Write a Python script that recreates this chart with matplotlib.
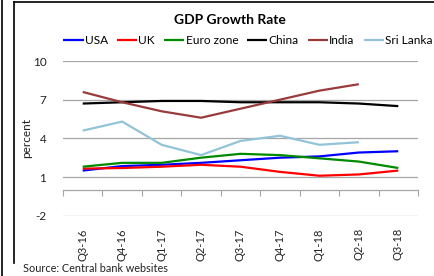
import numpy as np
import matplotlib
matplotlib.use("Agg")
import matplotlib.pyplot as plt
from matplotlib.lines import Line2D

plt.rcParams['font.family'] = ['Lato', 'DejaVu Sans']
plt.rcParams['axes.unicode_minus'] = False

quarters = ["Q3-16", "Q4-16", "Q1-17", "Q2-17", "Q3-17", "Q4-17", "Q1-18", "Q2-18", "Q3-18"]

usa = [1.5, 1.85, 1.95, 2.1, 2.3, 2.5, 2.6, 2.9, 3.0]
uk = [1.65, 1.7, 1.8, 1.95, 1.8, 1.4, 1.1, 1.2, 1.5]
euro = [1.8, 2.1, 2.1, 2.5, 2.8, 2.7, 2.45, 2.2, 1.7]
china = [6.7, 6.8, 6.9, 6.9, 6.8, 6.8, 6.8, 6.7, 6.5]
india = [7.6, 6.8, 6.1, 5.6, 6.3, 7.0, 7.7, 8.2, np.nan]
sri_lanka = [4.6, 5.3, 3.5, 2.7, 3.8, 4.2, 3.5, 3.7, np.nan]

series = [
    ("USA", usa, "#0000FF"),
    ("UK", uk, "#FF0000"),
    ("Euro zone", euro, "#008A00"),
    ("China", china, "#000000"),
    ("India", india, "#9A3B3B"),
    ("Sri Lanka", sri_lanka, "#92C4D8"),
]

W, H = 435, 276
fig = plt.figure(figsize=(W / 100, H / 100), dpi=100)
ax = fig.add_axes([63 / W, 1 - 215.7 / H, 355 / W, (215.7 - 61) / H])

x = np.arange(len(quarters))
for name, vals, col in series:
    ax.plot(x, vals, color=col, lw=1.6, label=name, solid_capstyle='butt')

ax.set_xlim(-0.5, len(quarters) - 0.5)
ax.set_ylim(-2, 10)
ax.set_yticks([-2, 1, 4, 7, 10])
ax.yaxis.grid(True, color="#A6A6A6", lw=0.9)
ax.set_axisbelow(True)
ax.tick_params(axis='y', length=0, pad=12, labelsize=8.5, colors="#222222")
ax.set_ylabel("percent", fontsize=8.5, color="#222222")
ax.yaxis.set_label_coords((32 - 63) / 355, 0.5)

for s in ["top", "right", "left"]:
    ax.spines[s].set_visible(False)
ax.spines["bottom"].set_position(("data", 0))
ax.spines["bottom"].set_color("#A6A6A6")
ax.spines["bottom"].set_linewidth(0.9)
ax.set_xticks(np.arange(-0.5, len(quarters)))
ax.tick_params(axis='x', direction='out', length=4, color="#A6A6A6", labelbottom=False)

sec = ax.secondary_xaxis(0)
sec.set_xticks(x)
sec.set_xticklabels(quarters, rotation=90, fontsize=8, color="#222222")
sec.tick_params(length=0, pad=9)
sec.spines["bottom"].set_visible(False)

fig.text(230 / W, 1 - 20 / H, "GDP Growth Rate", ha="center", va="center",
         fontsize=10, fontweight="bold")
fig.legend(loc="center", bbox_to_anchor=(248 / W, 1 - 41 / H), ncol=6, frameon=False,
           fontsize=8.6, handlelength=1.7, handletextpad=0.1, columnspacing=0.75,
           borderaxespad=0, borderpad=0)
fig.text(23 / W, 1 - 269 / H, "Source: Central bank websites", ha="left", va="center",
         fontsize=7.8, color="#222222")

# chart frame lines
fig.add_artist(Line2D([2 / W, 2 / W], [0, 1], color="black", lw=1.2, transform=fig.transFigure))
fig.add_artist(Line2D([14 / W, 14 / W], [1 - 263 / H, 1 - 1.5 / H], color="black", lw=1.2,
                      transform=fig.transFigure))
fig.add_artist(Line2D([14 / W, 1], [1 - 1.5 / H, 1 - 1.5 / H], color="black", lw=1.2,
                      transform=fig.transFigure))

fig.savefig("out.png", dpi=100)
